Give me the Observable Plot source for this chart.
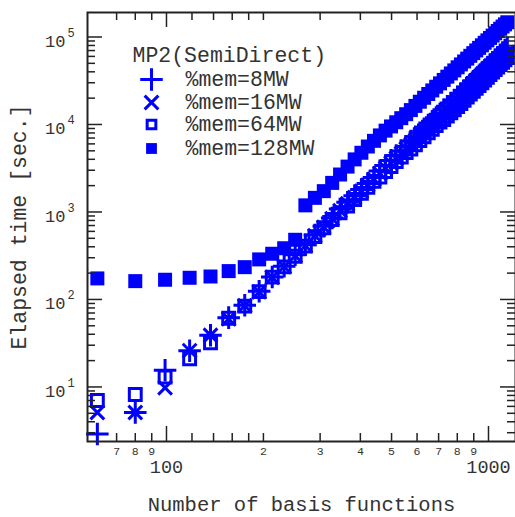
<!DOCTYPE html>
<html><head><meta charset="utf-8">
<script src="https://cdn.jsdelivr.net/npm/d3@7"></script>
<script src="https://cdn.jsdelivr.net/npm/@observablehq/plot@0.6"></script>
<style>
html,body{margin:0;padding:0;background:#fff;}
#chart svg{display:block;}
</style></head><body><div id="chart"></div>
<script>
const basisFunctions = [61, 80, 99, 118, 137, 156, 175, 194, 213, 232, 251, 270, 289, 308, 327, 346, 365, 384, 403, 422, 441, 460, 479, 498, 517, 536, 555, 574, 593, 612, 631, 650, 669, 688, 707, 726, 745, 764, 783, 802, 821, 840, 859, 878, 897, 916, 935, 954, 973, 992, 1011, 1030, 1049, 1068, 1087, 1106, 1125, 1144];
const mem8MW = [2.9, 5.1, 15.5, 26, 39, 62, 86, 124, 181, 240, 324, 423, 544, 686, 854, 1082, 1294, 1535, 1806, 2121, 2473, 2949, 3394, 3888, 4415, 4992, 5619, 6475, 7234, 8052, 8926, 9875, 10885, 11977, 13131, 14763, 16120, 17556, 19084, 20714, 22538, 24510, 26585, 28785, 31111, 33562, 36161, 38885, 41781, 44836, 48051, 51368, 54925, 58642, 62506, 66599, 70840, 75240];
const mem16MW = [5.1, 5.1, 9.8, 26, 39, 60, 85, 122, 179, 237, 316, 412, 536, 670, 840, 1035, 1240, 1470, 1730, 2030, 2370, 2750, 3160, 3620, 4110, 4650, 5240, 5870, 6560, 7300, 8090, 8950, 9870, 10860, 11900, 13030, 14230, 15500, 16850, 18290, 19900, 21640, 23470, 25410, 27460, 29630, 31920, 34330, 36880, 39580, 42420, 45350, 48490, 51770, 55180, 58790, 62540, 66420];
const mem64MW = [7.0, 8.2, 13, 21, 32, 61, 84, 123, 180, 236, 312, 407, 522, 660, 820, 979, 1170, 1389, 1634, 1919, 2237, 2513, 2892, 3312, 3761, 4252, 4787, 5250, 5865, 6529, 7237, 8006, 8825, 9711, 10647, 11396, 12443, 13552, 14731, 15990, 17398, 18920, 20522, 22220, 24015, 25907, 27914, 30017, 32252, 34610, 37092, 39653, 42398, 45267, 48250, 51410, 54683, 58080];
const mem128MW = [174, 162, 168, 177, 183, 211, 234, 287, 333, 385, 481, 1190, 1450, 1730, 2150, 2680, 3300, 3990, 4750, 5600, 6500, 7500, 8500, 9500, 10600, 11800, 13100, 14600, 16300, 18200, 20200, 22300, 24500, 27000, 29500, 32300, 35200, 38300, 41500, 45000, 48600, 52500, 56600, 60900, 65400, 70200, 75100, 80300, 85800, 91500, 97500, 103700, 110300, 117100, 124200, 131700, 139400, 147300];

const seriesNames = ["%mem=8MW", "%mem=16MW", "%mem=64MW", "%mem=128MW"];
const legendTitle = "MP2(SemiDirect)";
const xTitle = "Number of basis functions";
const yTitle = "Elapsed time [sec.]";

const xMajorTicks = [100, 1000];
const xMajorLabels = ["100", "1000"];
const xMinorTicks = [70, 80, 90, 120, 140, 160, 180, 200, 300, 400, 500, 600, 700, 800, 900];
const xMinorLabelTicks = [70, 80, 90, 200, 300, 400, 500, 600, 700, 800, 900];
const xMinorLabels = ["7", "8", "9", "2", "3", "4", "5", "6", "7", "8", "9"];
const yMajorTicks = [10, 100, 1000, 10000, 100000];
const yMajorExponents = ["1", "2", "3", "4", "5"];
const yMinorTicks = [3, 4, 5, 6, 7, 8, 9, 20, 30, 40, 50, 60, 70, 80, 90, 200, 300, 400, 500, 600, 700, 800, 900, 2000, 3000, 4000, 5000, 6000, 7000, 8000, 9000, 20000, 30000, 40000, 50000, 60000, 70000, 80000, 90000];

const W = 515, H = 517;
const mL = 87, mT = 12, mR = 0, mB = 76;
const plotW = W - mL - mR, plotH = H - mT - mB;
const blue = "#0000ff";
const ink = "#222";
const textInk = "#333";
const font = "'Liberation Mono', 'DejaVu Sans Mono', monospace";

const rows = arr => basisFunctions.map((n, i) => ({n, v: arr[i]}));

const tickMarks = [];
const tickStyle = {stroke: ink, strokeWidth: 1.5};
tickMarks.push(Plot.tickY(yMajorTicks, {y: d => d, ...tickStyle, insetRight: plotW - 15}));
tickMarks.push(Plot.tickY(yMajorTicks, {y: d => d, ...tickStyle, insetLeft: plotW - 15}));
tickMarks.push(Plot.tickY(yMinorTicks, {y: d => d, ...tickStyle, insetRight: plotW - 8}));
tickMarks.push(Plot.tickY(yMinorTicks, {y: d => d, ...tickStyle, insetLeft: plotW - 8}));
tickMarks.push(Plot.tickX(xMajorTicks, {x: d => d, ...tickStyle, insetTop: plotH - 15}));
tickMarks.push(Plot.tickX(xMajorTicks, {x: d => d, ...tickStyle, insetBottom: plotH - 15}));
tickMarks.push(Plot.tickX(xMinorTicks, {x: d => d, ...tickStyle, insetTop: plotH - 8}));
tickMarks.push(Plot.tickX(xMinorTicks, {x: d => d, ...tickStyle, insetBottom: plotH - 8}));

const legendSymbols = [
  {symbol: "plus", r: 7.3, stroke: blue, fill: "none", strokeWidth: 3},
  {symbol: "times", r: 6.3, stroke: blue, fill: "none", strokeWidth: 3},
  {symbol: "square", r: 4.9, stroke: blue, fill: "none", strokeWidth: 3},
  {symbol: "square", r: 6.1, fill: blue, stroke: "none"}
];
const legendRowDy = [67, 90, 112, 136];
const legendMarks = [
  Plot.text([legendTitle], {frameAnchor: "top-left", dx: 45, dy: 43, textAnchor: "start", lineAnchor: "middle", fontSize: 21.5, fill: textInk})
];
seriesNames.forEach((name, i) => {
  legendMarks.push(Plot.dot([name], {frameAnchor: "top-left", dx: 64, dy: legendRowDy[i], ...legendSymbols[i]}));
  legendMarks.push(Plot.text([name], {frameAnchor: "top-left", dx: 98, dy: legendRowDy[i], textAnchor: "start", lineAnchor: "middle", fontSize: 21.5, fill: textInk}));
});

const chart = Plot.plot({
  width: W, height: H,
  marginLeft: mL, marginTop: mT, marginRight: mR, marginBottom: mB,
  style: {background: "white", color: ink, fontFamily: font},
  x: {type: "log", domain: [56.85, 1213], axis: null},
  y: {type: "log", domain: [2.38, 190500], axis: null},
  marks: [
    Plot.dot(rows(mem8MW), {x: "n", y: "v", symbol: "plus", r: 7.3, stroke: blue, fill: "none", strokeWidth: 3}),
    Plot.dot(rows(mem16MW), {x: "n", y: "v", symbol: "times", r: 6.3, stroke: blue, fill: "none", strokeWidth: 3}),
    Plot.dot(rows(mem64MW), {x: "n", y: "v", symbol: "square", r: 6.7, stroke: blue, fill: "none", strokeWidth: 3}),
    Plot.dot(rows(mem128MW), {x: "n", y: "v", symbol: "square", r: 7.9, fill: blue, stroke: "none"}),
    ...tickMarks,
    Plot.frame({stroke: ink, strokeWidth: 2}),
    Plot.text(yMajorTicks, {y: d => d, frameAnchor: "left", text: () => "10", textAnchor: "end", lineAnchor: "middle", dx: -22, dy: 4.5, fontSize: 17, fill: textInk}),
    Plot.text(yMajorTicks, {y: d => d, frameAnchor: "left", text: (d, i) => yMajorExponents[i], textAnchor: "start", lineAnchor: "middle", dx: -20, dy: -4, fontSize: 12, fill: textInk}),
    Plot.text(xMinorLabelTicks, {x: d => d, frameAnchor: "bottom", text: (d, i) => xMinorLabels[i], textAnchor: "middle", lineAnchor: "middle", dy: 10, fontSize: 11.5, fill: textInk}),
    Plot.text(xMajorTicks, {x: d => d, frameAnchor: "bottom", text: (d, i) => xMajorLabels[i], textAnchor: "middle", lineAnchor: "middle", dy: 26, fontSize: 18.5, fill: textInk}),
    Plot.text([xTitle], {frameAnchor: "bottom", textAnchor: "middle", lineAnchor: "middle", dy: 63, fontSize: 20.5, fill: textInk}),
    Plot.text([yTitle], {frameAnchor: "left", textAnchor: "middle", lineAnchor: "middle", dx: -68, rotate: -90, fontSize: 21.5, fill: textInk}),
    ...legendMarks
  ]
});
document.getElementById("chart").appendChild(chart);
</script>
</body></html>
